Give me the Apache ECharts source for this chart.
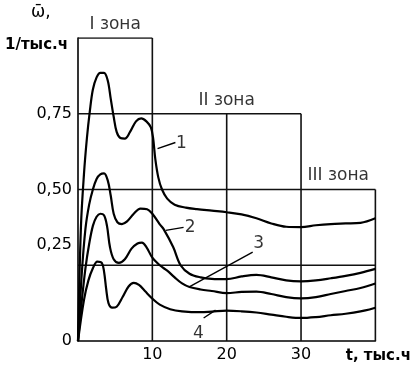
<!DOCTYPE html>
<html>
<head>
<meta charset="utf-8">
<script src="https://cdn.jsdelivr.net/npm/echarts@6/dist/echarts.min.js"></script>
<style>
  html, body { margin: 0; padding: 0; background: #fff; }
  #chart { width: 414px; height: 365px; }
</style>
</head>
<body>
<div id="chart"></div>
<script>
  // кривые: [t, тыс.ч ; omega, 1/тыс.ч]
  const curve1 = [[0,0],[0.4,0.38],[0.8,0.55],[1.2,0.67],[1.6,0.76],[2.0,0.83],[2.5,0.87],[3.0,0.885],[3.5,0.885],[4.0,0.86],[4.4,0.8],[4.8,0.74],[5.2,0.69],[5.7,0.67],[6.3,0.668],[7.0,0.69],[7.8,0.725],[8.5,0.735],[9.2,0.725],[9.8,0.705],[10.1,0.67],[10.4,0.6],[10.8,0.54],[11.3,0.5],[12,0.47],[13,0.45],[14.5,0.44],[16,0.435],[18,0.43],[20,0.425],[22,0.418],[24,0.405],[26,0.388],[28,0.377],[30,0.376],[32,0.382],[34,0.386],[36,0.388],[38,0.39],[40,0.405]]
  const curve2 = [[0,0],[0.5,0.22],[1.0,0.37],[1.5,0.45],[2.0,0.5],[2.5,0.535],[3.0,0.55],[3.5,0.553],[4.0,0.53],[4.4,0.48],[4.8,0.42],[5.3,0.392],[5.9,0.386],[6.6,0.395],[7.5,0.42],[8.4,0.437],[9.3,0.435],[10,0.42],[11,0.385],[11.5,0.37],[12.8,0.31],[13.8,0.25],[15,0.222],[16.5,0.21],[18,0.205],[20,0.204],[22,0.213],[24,0.218],[26,0.21],[28,0.2],[30,0.197],[32,0.2],[34,0.207],[36,0.215],[38,0.225],[40,0.238]]
  const curve3 = [[0,0],[0.5,0.13],[1.0,0.24],[1.5,0.32],[2.0,0.38],[2.5,0.41],[3.0,0.42],[3.5,0.415],[3.9,0.38],[4.3,0.31],[4.8,0.27],[5.5,0.258],[6.3,0.27],[7.2,0.305],[8.0,0.322],[8.6,0.325],[9.2,0.31],[10,0.275],[11,0.25],[12,0.232],[13,0.21],[14,0.19],[15,0.178],[16.5,0.17],[18,0.165],[20,0.158],[22,0.162],[24,0.163],[26,0.155],[28,0.145],[30,0.141],[32,0.145],[34,0.155],[36,0.165],[38,0.175],[40,0.19]]
  const curve4 = [[0,0],[0.8,0.135],[1.4,0.2],[2.0,0.24],[2.6,0.262],[3.2,0.258],[3.5,0.23],[3.8,0.17],[4.1,0.125],[4.6,0.11],[5.2,0.113],[6,0.145],[6.8,0.18],[7.5,0.192],[8.2,0.185],[9,0.165],[10,0.14],[11,0.12],[12.4,0.105],[14,0.098],[16.5,0.095],[18,0.097],[20,0.1],[22,0.098],[24,0.094],[26,0.087],[28,0.08],[30,0.076],[32,0.079],[34,0.085],[36,0.09],[38,0.098],[40,0.11]]

  const curveNames = ['1', '2', '3', '4']
  // выноски: от кривой к номеру
  const leaders = [
    [[10.7, 0.635], [13.1, 0.655]],
    [[11.8, 0.365], [14.2, 0.375]],
    [[14.9, 0.178], [23.5, 0.293]],
    [[16.9, 0.076], [18.5, 0.102]]
  ]
  const namePoints = [[13.9, 0.65], [15.1, 0.375], [24.3, 0.32], [16.2, 0.026]]

  // зоны
  const zoneNames = ['I зона', 'II зона', 'III зона']
  const zoneCenters = [5, 20, 35]
  const zoneTops = [1, 0.75, 0.5]
  // вертикальные линии [t, высота], горизонтальные [omega, до t]
  const gridV = [[10, 1], [20, 0.75], [30, 0.75], [40, 0.5]]
  const gridH = [[1, 10], [0.75, 30], [0.5, 40], [0.25, 40]]

  const xTicks = [10, 20, 30]
  const yTicks = [0, 0.25, 0.5, 0.75]

  const FONT = 'DejaVu Sans'
  const chart = echarts.init(document.getElementById('chart'))

  const series = []
  gridV.forEach(function (v) {
    series.push({ type: 'line', data: [[v[0], 0], [v[0], v[1]]], symbol: 'none', silent: true,
      lineStyle: { color: '#111', width: 1.6 } })
  })
  gridH.forEach(function (h) {
    series.push({ type: 'line', data: [[0, h[0]], [h[1], h[0]]], symbol: 'none', silent: true,
      lineStyle: { color: '#111', width: 1.6 } })
  })
  ;[curve1, curve2, curve3, curve4].forEach(function (c) {
    series.push({ type: 'line', data: c, symbol: 'none', smooth: 0.35,
      lineStyle: { color: '#000', width: 2.2 } })
  })
  leaders.forEach(function (l) {
    series.push({ type: 'line', data: l, symbol: 'none', lineStyle: { color: '#000', width: 1.4 } })
  })
  series.push({
    type: 'scatter', symbolSize: 0,
    data: namePoints.map(function (p, i) { return { value: p, name: curveNames[i] } }),
    label: { show: true, position: 'inside', formatter: '{b}', color: '#000', fontFamily: FONT, fontSize: 17 }
  })
  series.push({
    type: 'scatter', symbolSize: 0,
    data: zoneCenters.map(function (c, i) { return { value: [c, zoneTops[i]], name: zoneNames[i] } }),
    label: { show: true, position: 'top', distance: 5, formatter: '{b}', color: '#000', fontFamily: FONT, fontSize: 17 }
  })

  const option = {
    animation: false,
    grid: { left: 78, right: 38, top: 38, bottom: 24, containLabel: false },
    xAxis: {
      type: 'value', min: 0, max: 40, interval: 10,
      splitLine: { show: false },
      axisTick: { show: false },
      axisLine: { lineStyle: { color: '#000', width: 1.6 } },
      axisLabel: {
        margin: 6, color: '#000', fontFamily: FONT, fontSize: 16,
        formatter: function (v) { return xTicks.indexOf(v) >= 0 ? String(v) : '' }
      },
      name: 't, тыс.ч', nameLocation: 'end', nameGap: 3,
      nameTextStyle: { color: '#000', fontFamily: FONT, fontSize: 15, fontWeight: 'bold',
        align: 'center', verticalAlign: 'top', padding: [8, 0, 0, 0] }
    },
    yAxis: {
      type: 'value', min: 0, max: 1, interval: 0.25,
      splitLine: { show: false },
      axisTick: { show: false },
      axisLine: { show: true, lineStyle: { color: '#000', width: 1.6 } },
      axisLabel: {
        margin: 6, color: '#000', fontFamily: FONT, fontSize: 16,
        formatter: function (v) {
          if (yTicks.indexOf(v) < 0) return ''
          const s = v === 0 ? '0' : v.toFixed(2).replace('.', ',')
          return v === 0.25 ? '{up|' + s + '}' : s
        },
        rich: { up: { fontFamily: FONT, fontSize: 16, color: '#000', padding: [0, 0, 40, 0] } }
      }
    },
    graphic: [
      { type: 'text', left: 31, top: 4, style: { text: 'ω\u0304,', font: '17px "' + FONT + '"', fill: '#000' } },
      { type: 'text', left: 5, top: 38, style: { text: '1/тыс.ч', font: 'bold 15px "' + FONT + '"', fill: '#000' } }
    ],
    series: series
  }

  chart.setOption(option)
</script>
</body>
</html>
